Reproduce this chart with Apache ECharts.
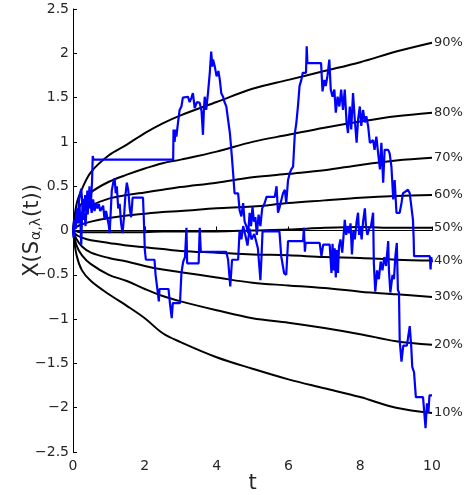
<!DOCTYPE html>
<html>
<head>
<meta charset="utf-8">
<script src="https://cdn.jsdelivr.net/npm/echarts@6/dist/echarts.min.js"></script>
<style>
  html, body { margin: 0; padding: 0; background: #fff; }
  #chart { width: 469px; height: 495px; }
</style>
</head>
<body>
<div id="chart"></div>
<script>
// times where the quantile curves were read
const tQuant = [0, 0.1, 0.25, 0.5, 1, 1.5, 2, 2.5, 3, 4, 5, 6, 7, 8, 9, 10];

const q90 = [0, 0.3, 0.47, 0.66, 0.85, 0.97, 1.1, 1.21, 1.3, 1.45, 1.6, 1.7, 1.8, 1.9, 2.02, 2.12];
const q80 = [0, 0.2, 0.31, 0.43, 0.55, 0.63, 0.7, 0.76, 0.8, 0.89, 1.0, 1.08, 1.16, 1.23, 1.29, 1.33];
const q70 = [0, 0.12, 0.2, 0.28, 0.36, 0.4, 0.43, 0.46, 0.49, 0.54, 0.6, 0.64, 0.68, 0.74, 0.79, 0.82];
const q60 = [0, 0.04, 0.07, 0.1, 0.14, 0.17, 0.19, 0.21, 0.22, 0.25, 0.27, 0.31, 0.34, 0.37, 0.39, 0.4];
const q50 = [0, -0.01, -0.02, -0.02, -0.02, -0.02, -0.02, -0.01, -0.01, -0.01, 0.0, 0.01, 0.03, 0.04, 0.03, 0.03];
const q40 = [0, -0.05, -0.08, -0.11, -0.14, -0.17, -0.19, -0.21, -0.23, -0.25, -0.27, -0.28, -0.3, -0.31, -0.33, -0.34];
const q30 = [0, -0.1, -0.18, -0.25, -0.31, -0.35, -0.4, -0.44, -0.47, -0.53, -0.59, -0.62, -0.65, -0.69, -0.72, -0.75];
const q20 = [0, -0.17, -0.28, -0.38, -0.5, -0.57, -0.66, -0.74, -0.8, -0.9, -0.99, -1.04, -1.1, -1.17, -1.25, -1.29];
const q10 = [0, -0.28, -0.45, -0.57, -0.72, -0.85, -0.99, -1.16, -1.26, -1.43, -1.56, -1.68, -1.78, -1.88, -2.0, -2.06];

const quantNames = ['90%', '80%', '70%', '60%', '50%', '40%', '30%', '20%', '10%'];
const quantValues = [q90, q80, q70, q60, q50, q40, q30, q20, q10];

// sample path that climbs high and ends near -0.4
const pathHigh = [
  [0, 0], [0.03, 0.12], [0.06, 0.05], [0.1, 0.22], [0.13, 0.1], [0.17, 0.35], [0.2, 0.42], [0.23, 0.47],
  [0.26, 0.3], [0.29, 0.12], [0.32, 0.2], [0.35, 0.05], [0.38, 0.3], [0.41, 0.18], [0.44, 0.38], [0.47, 0.25],
  [0.5, 0.32], [0.53, 0.55], [0.55, 0.84], [0.57, 0.8], [2.79, 0.8], [2.8, 1.14], [2.83, 1.0], [2.86, 1.14],
  [2.88, 1.06], [2.92, 1.2], [2.97, 1.36], [3.02, 1.4], [3.06, 1.5], [3.11, 1.51], [3.2, 1.51], [3.25, 1.45],
  [3.3, 1.5], [3.34, 1.55], [3.39, 1.38], [3.45, 1.45], [3.53, 1.44], [3.58, 1.35], [3.62, 1.08], [3.65, 1.4],
  [3.67, 1.51], [3.71, 1.36], [3.76, 1.55], [3.81, 1.78], [3.85, 2.02], [3.88, 1.85], [3.9, 1.93], [3.95, 1.85],
  [4.0, 1.74], [4.05, 1.8], [4.09, 1.7], [4.13, 1.55], [4.18, 1.51], [4.22, 1.45], [4.27, 1.4], [4.32, 1.25],
  [4.37, 1.1], [4.41, 0.91], [4.46, 0.65], [4.5, 0.42], [4.6, 0.42], [4.64, 0.23], [4.69, 0.16], [4.74, 0.31],
  [4.78, 0.1], [4.83, 0.05], [4.88, -0.03], [4.92, 0.2], [4.96, 0.05], [5.0, 0.27], [5.04, 0.1], [5.08, 0.15],
  [5.12, -0.05], [5.17, 0.18], [5.22, 0.05], [5.27, 0.25], [5.34, 0.31], [5.39, 0.38], [5.62, 0.38], [5.67, 0.5],
  [5.71, 0.2], [5.76, 0.27], [5.85, 0.42], [5.9, 0.46], [5.94, 0.31], [5.99, 0.57], [6.04, 0.65], [6.08, 0.69],
  [6.13, 0.72], [6.18, 1.1], [6.22, 1.21], [6.27, 1.42], [6.31, 1.63], [6.36, 1.7], [6.4, 1.78], [6.49, 1.78],
  [6.51, 2.08], [6.53, 1.89], [6.91, 1.89], [6.95, 1.57], [7.0, 1.7], [7.04, 1.63], [7.09, 1.75], [7.14, 1.93],
  [7.18, 1.59], [7.23, 1.51], [7.28, 1.59], [7.32, 1.33], [7.37, 1.51], [7.42, 1.4], [7.47, 1.59], [7.52, 1.36],
  [7.57, 1.59], [7.62, 1.22], [7.66, 1.1], [7.71, 1.4], [7.75, 1.14], [7.8, 1.55], [7.85, 1.25], [7.9, 0.99],
  [7.94, 1.25], [7.99, 1.4], [8.03, 1.18], [8.08, 1.36], [8.13, 1.22], [8.17, 1.29], [8.22, 1.18], [8.27, 0.99],
  [8.36, 1.02], [8.4, 0.91], [8.45, 1.06], [8.5, 0.87], [8.55, 0.69], [8.59, 0.99], [8.64, 0.54], [8.68, 0.91],
  [8.78, 0.91], [8.82, 0.87], [8.87, 0.72], [8.92, 0.35], [8.96, 0.57], [9.01, 0.2], [9.1, 0.2], [9.15, 0.31],
  [9.19, 0.42], [9.33, 0.46], [9.38, 0.42], [9.47, 0.12], [9.49, -0.1], [9.5, -0.29], [9.94, -0.29], [9.96, -0.44],
  [9.98, -0.3], [10, -0.36]
];

// sample path that stays low and ends near -1.9
const pathLow = [
  [0, 0], [0.02, -0.08], [0.05, 0.1], [0.08, 0.02], [0.11, 0.25], [0.14, 0.08], [0.18, 0.3], [0.21, 0.05],
  [0.23, -0.16], [0.25, 0.15], [0.28, 0.35], [0.31, 0.2], [0.34, 0.4], [0.37, 0.25], [0.4, 0.45], [0.43, 0.3],
  [0.46, 0.5], [0.49, 0.3], [0.52, 0.2], [0.56, 0.35], [0.6, 0.22], [0.64, 0.31], [0.68, 0.25], [0.72, 0.3],
  [0.76, 0.22], [0.8, 0.2], [0.84, 0.28], [0.88, 0.12], [0.92, 0.22], [0.97, 0.2], [1.0, 0.05], [1.02, -0.03],
  [1.05, 0.2], [1.08, 0.45], [1.12, 0.54], [1.16, 0.59], [1.19, 0.42], [1.22, 0.5], [1.26, 0.25], [1.3, 0.3],
  [1.34, 0.08], [1.38, -0.03], [1.42, 0.15], [1.46, 0.4], [1.5, 0.54], [1.54, 0.45], [1.58, 0.25], [1.62, 0.15],
  [1.66, 0.37], [1.95, 0.37], [1.98, 0.05], [2.0, -0.22], [2.03, -0.33], [2.27, -0.33], [2.3, -0.5], [2.35, -0.66],
  [2.39, -0.8], [2.41, -0.66], [2.66, -0.66], [2.7, -0.82], [2.75, -0.99], [2.78, -0.82], [2.98, -0.82], [3.02, -0.48],
  [3.07, -0.35], [3.12, -0.3], [3.16, 0.03], [3.18, -0.37], [3.5, -0.37], [3.53, 0.03], [3.56, -0.24], [4.27, -0.24],
  [4.32, -0.33], [4.38, -0.63], [4.43, -0.33], [4.6, -0.33], [4.64, 0.0], [4.69, -0.1], [4.74, 0.05], [4.8, -0.05],
  [4.86, -0.17], [4.92, 0.02], [4.97, -0.1], [5.05, -0.04], [5.15, -0.2], [5.22, -0.56], [5.25, -0.3], [5.28, -0.01],
  [5.75, -0.01], [5.8, -0.29], [5.88, -0.48], [5.94, -0.5], [5.99, -0.12], [6.41, -0.12], [6.43, 0.03], [6.46, -0.24],
  [6.48, -0.14], [6.87, -0.14], [6.92, -0.29], [6.97, -0.16], [7.15, -0.16], [7.2, -0.48], [7.23, -0.15], [7.26, -0.45],
  [7.29, -0.2], [7.32, -0.53], [7.35, -0.22], [7.38, -0.48], [7.41, -0.18], [7.45, -0.1], [7.5, -0.25], [7.57, 0.12],
  [7.61, -0.05], [7.65, 0.05], [7.69, -0.03], [7.73, 0.08], [7.77, -0.27], [7.81, 0.0], [7.85, -0.1], [7.9, 0.1],
  [7.94, 0.2], [7.97, -0.05], [8.0, 0.05], [8.04, -0.1], [8.08, 0.1], [8.13, 0.25], [8.16, 0.05], [8.2, -0.05],
  [8.25, 0.02], [8.3, 0.05], [8.36, 0.2], [8.38, -0.37], [8.42, -0.69], [8.47, -0.45], [8.52, -0.55], [8.57, -0.35],
  [8.62, -0.45], [8.67, -0.3], [8.72, -0.4], [8.78, -0.12], [8.8, -0.45], [8.84, -0.7], [8.9, -0.5], [8.94, -0.55],
  [8.98, -0.29], [9.02, -0.14], [9.05, -0.67], [9.08, -0.7], [9.1, -1.24], [9.15, -1.48], [9.2, -1.3], [9.3, -1.3],
  [9.38, -1.08], [9.42, -1.3], [9.45, -1.54], [9.5, -1.6], [9.55, -1.88], [9.75, -1.88], [9.82, -2.23], [9.86, -1.95],
  [9.9, -2.05], [9.93, -1.86], [10, -1.86]
];

const font = 'DejaVu Sans';
const textColor = '#262626';

const chart = echarts.init(document.getElementById('chart'));

const quantSeries = quantNames.map((name, i) => ({
  name: name,
  type: 'line',
  data: tQuant.map((t, j) => [t, quantValues[i][j]]),
  showSymbol: false,
  smooth: 0.35,
  lineStyle: { color: '#000', width: 2 },
  endLabel: {
    show: true,
    formatter: name,
    distance: 2,
    color: textColor,
    fontFamily: font,
    fontSize: 13
  },
  z: 2
}));

const pathSeries = [pathHigh, pathLow].map((p, i) => ({
  name: 'path' + (i + 1),
  type: 'line',
  data: p,
  showSymbol: false,
  lineStyle: { color: '#0000ff', width: 2.2 },
  z: 3
}));

chart.setOption({
  animation: false,
  grid: { left: 73, right: 37, top: 9, bottom: 43, containLabel: false, outerBoundsMode: 'none' },
  xAxis: {
    type: 'value',
    min: 0,
    max: 10,
    interval: 2,
    name: 't',
    nameLocation: 'middle',
    nameGap: 21,
    nameMoveOverlap: false,
    nameTextStyle: { fontFamily: font, fontSize: 21, color: textColor },
    axisLine: { show: true, lineStyle: { color: '#000', width: 1 } },
    axisTick: { show: true, inside: true, length: 4, lineStyle: { color: '#000' } },
    axisLabel: { margin: 7, fontFamily: font, fontSize: 14, color: textColor },
    splitLine: { show: false }
  },
  yAxis: {
    type: 'value',
    min: -2.5,
    max: 2.5,
    interval: 0.5,
    name: '{a|X(S}{b|α,λ}{a|(t))}',
    nameLocation: 'middle',
    nameGap: 30,
    nameMoveOverlap: false,
    nameTextStyle: {
      color: textColor,
      rich: {
        a: { fontFamily: font, fontSize: 21, lineHeight: 21, verticalAlign: 'top', color: textColor },
        b: { fontFamily: font, fontSize: 14, lineHeight: 14, verticalAlign: 'bottom', padding: [12, 1, 0, 1], color: textColor }
      }
    },
    axisLine: { show: true, lineStyle: { color: '#000', width: 1 } },
    axisTick: { show: true, inside: true, length: 4, lineStyle: { color: '#000' } },
    axisLabel: {
      margin: 4,
      fontFamily: font,
      fontSize: 14,
      color: textColor,
      formatter: v => String(v).replace('-', '\u2212')
    },
    splitLine: { show: false }
  },
  series: quantSeries.concat(pathSeries)
});
</script>
</body>
</html>
